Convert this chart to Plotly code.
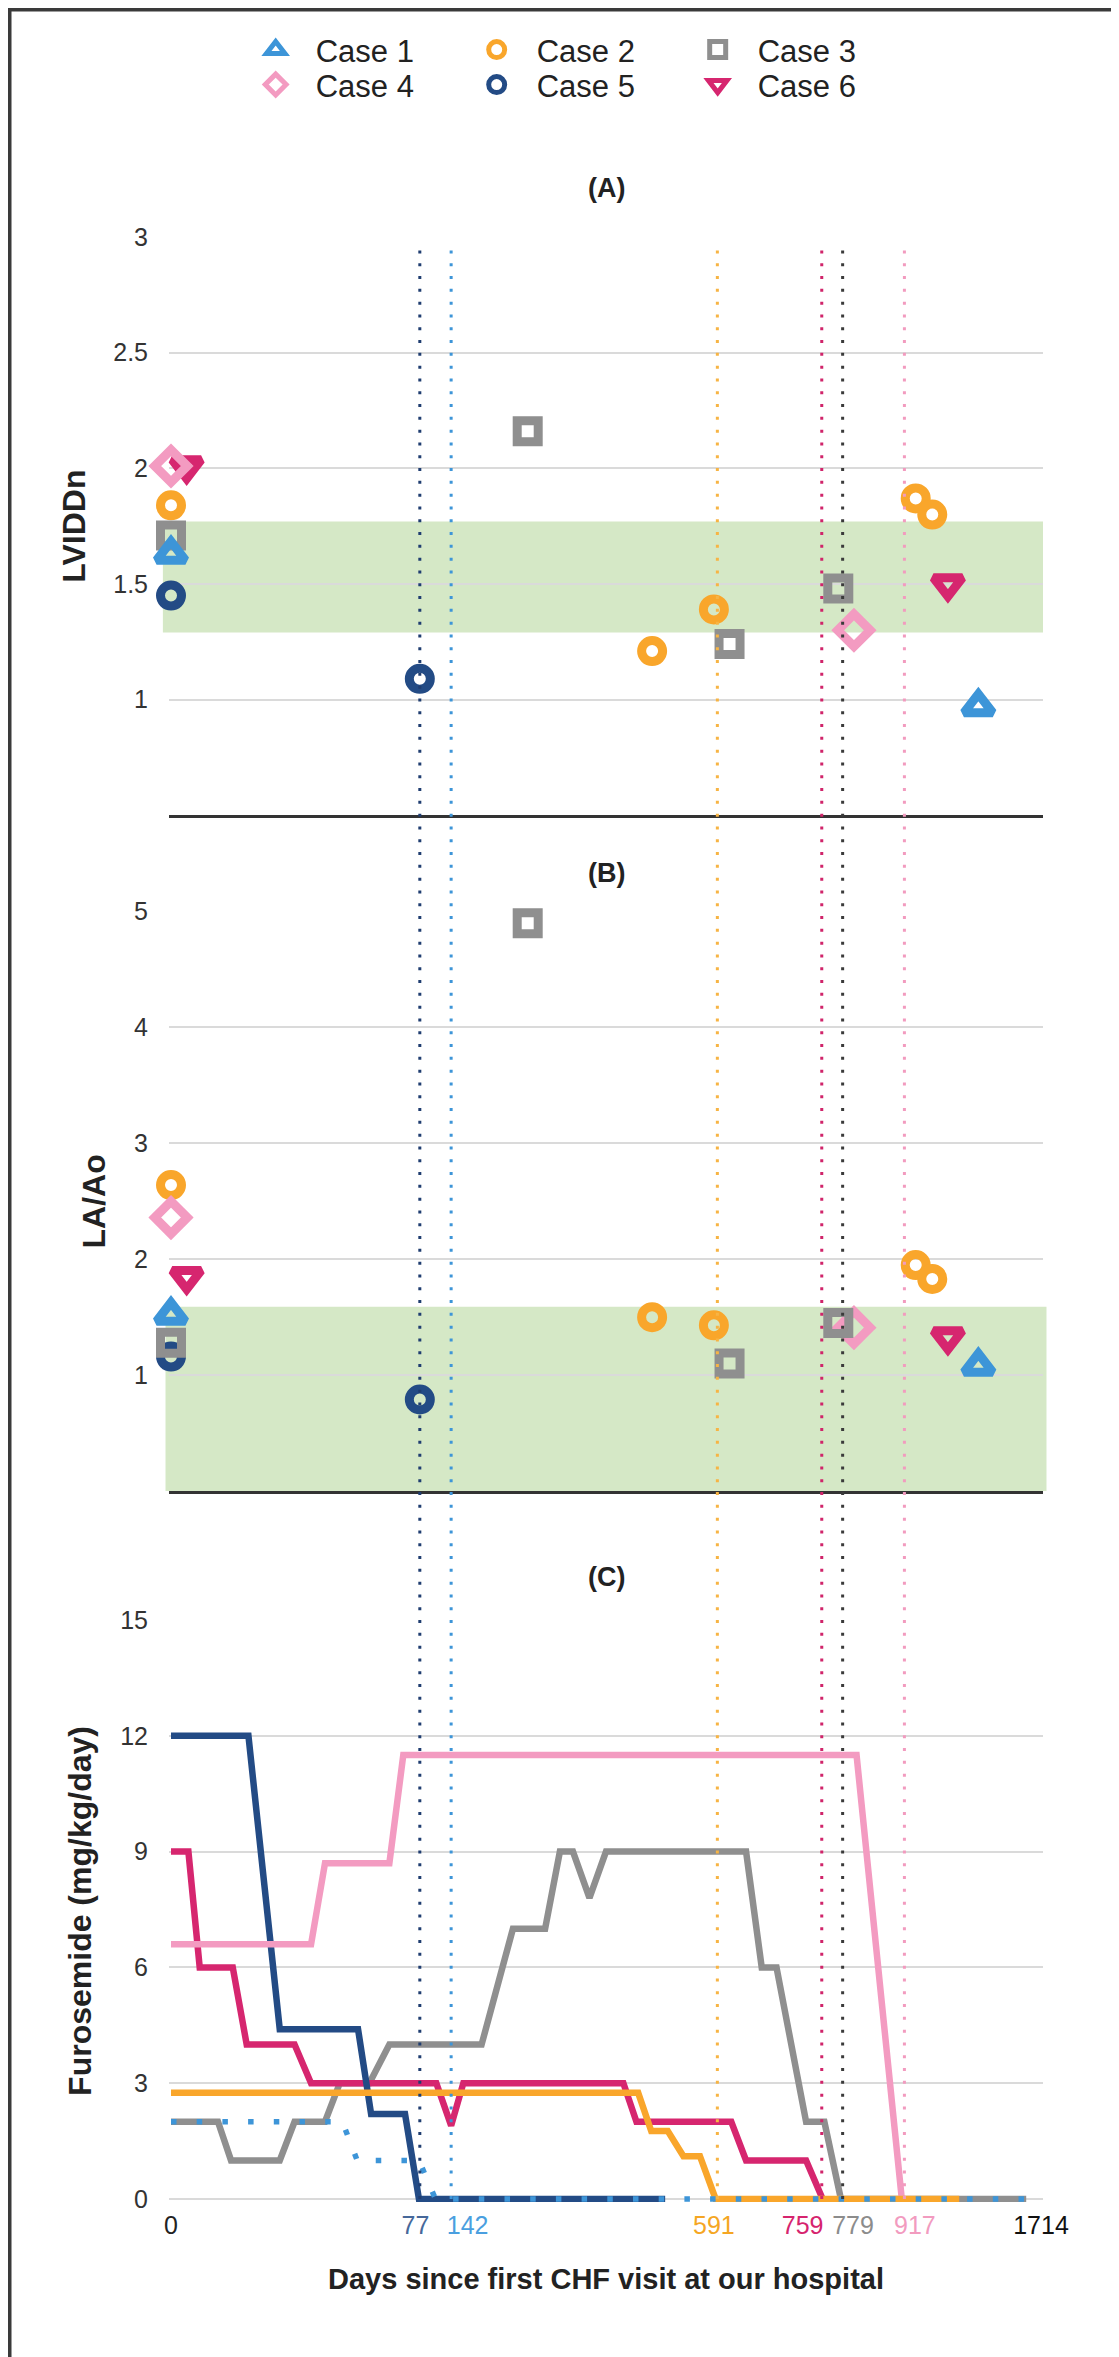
import plotly.graph_objects as go

FONT = "Liberation Sans, Arial, Helvetica, sans-serif"

case_names = ["Case 1", "Case 2", "Case 3", "Case 4", "Case 5", "Case 6"]
case_colors = ["#3d95d8", "#f9a62b", "#8f8f8f", "#f39bc1", "#234b85", "#d6266f"]
case_symbols = ["triangle-up-open", "circle-open", "square-open",
                "diamond-open", "circle-open", "triangle-down-open"]

# x = position on the chart's ordinal visit axis (0 = day 0, 100 = day 1714)
# echo visits: LVIDDn (A) and LA/Ao (B)
c1_echo_x = [0, 92.8]
c1_lviddn = [1.63, 0.97]
c1_laao = [1.52, 1.08]

c2_echo_x = [0, 55.3, 62.4, 85.6, 87.5]
c2_lviddn = [1.84, 1.21, 1.39, 1.87, 1.80]
c2_laao = [2.64, 1.50, 1.43, 1.95, 1.83]

c3_echo_x = [0, 41.0, 64.2, 76.7]
c3_lviddn = [1.71, 2.16, 1.24, 1.48]
c3_laao = [1.28, 4.90, 1.10, 1.45]

c4_echo_x = [0, 78.5]
c4_lviddn = [2.01, 1.30]
c4_laao = [2.36, 1.41]

c5_echo_x = [0, 28.6]
c5_lviddn = [1.45, 1.09]
c5_laao = [1.16, 0.79]

c6_echo_x = [1.8, 89.3]
c6_lviddn = [2.01, 1.50]
c6_laao = [1.85, 1.33]

# furosemide dose (C)
c1_furo_x = [0, 19.7, 21.4, 28.5, 30.4, 99.4]
c1_furo = [2, 2, 1, 1, 0, 0]

c2_furo_x = [0, 53.7, 55.2, 57.1, 58.9, 60.8, 62.6, 90.6]
c2_furo = [2.75, 2.75, 1.76, 1.76, 1.11, 1.11, 0, 0]

c3_furo_x = [0, 5.4, 6.9, 12.5, 14.2, 17.7, 19.4, 22.8, 25.1, 35.7, 39.3, 43.0,
             44.7, 46.2, 48.1, 50.0, 66.1, 67.9, 69.6, 73.0, 75.1, 77.0, 98.3]
c3_furo = [2, 2, 1, 1, 2, 2, 3, 3, 4, 4, 7, 7,
           9, 9, 7.8, 9, 9, 6, 6, 2, 2, 0, 0]

c4_furo_x = [0, 16.1, 17.7, 25.1, 26.7, 78.8, 84.0]
c4_furo = [6.6, 6.6, 8.7, 8.7, 11.5, 11.5, 0]

c5_furo_x = [0, 8.9, 12.5, 21.5, 23.0, 26.9, 28.5, 56.8]
c5_furo = [12, 12, 4.4, 4.4, 2.2, 2.2, 0, 0]

c6_furo_x = [0, 2.0, 3.3, 7.1, 8.7, 14.2, 16.1, 30.5, 32.2, 33.6, 52.0, 53.5,
             64.4, 66.1, 73.0, 74.9]
c6_furo = [9, 9, 6, 6, 4, 4, 3, 3, 1.9, 3, 3, 2,
           2, 1, 1, 0]

# day furosemide reached zero, per case (dotted guides)
stop_days = [77, 142, 591, 759, 779, 917]
stop_x = [28.6, 32.2, 62.8, 74.8, 77.2, 84.3]
stop_colors = ["#1f3d70", "#3d95d8", "#f7b444", "#d0246a", "#3a3a3a", "#f29bbf"]

# x-axis day labels
day_labels = ["0", "77", "142", "591", "759", "779", "917", "1714"]
day_label_x = [0, 28.1, 34.1, 62.4, 72.6, 78.4, 85.5, 100]
day_label_colors = ["#222222", "#46689a", "#4a9fe0", "#f5a623",
                    "#d6246e", "#8c8c8c", "#f29bbf", "#111111"]

# reference (normal) ranges
lviddn_normal = [1.29, 1.77]
laao_normal = [0, 1.59]

echo_x = [c1_echo_x, c2_echo_x, c3_echo_x, c4_echo_x, c5_echo_x, c6_echo_x]
lviddn = [c1_lviddn, c2_lviddn, c3_lviddn, c4_lviddn, c5_lviddn, c6_lviddn]
laao = [c1_laao, c2_laao, c3_laao, c4_laao, c5_laao, c6_laao]
furo_x = [c1_furo_x, c2_furo_x, c3_furo_x, c4_furo_x, c5_furo_x, c6_furo_x]
furo = [c1_furo, c2_furo, c3_furo, c4_furo, c5_furo, c6_furo]

marker_size = {"circle-open": 21, "square-open": 21, "diamond-open": 25,
               "triangle-up-open": 25, "triangle-down-open": 25}

fig = go.Figure()

# marker draw order (later = on top); cases 1-3 in the first legend row, 4-6 in the second
for i in [5, 4, 1, 3, 2, 0]:
    mk = dict(symbol=case_symbols[i], size=marker_size[case_symbols[i]],
              color=case_colors[i], line=dict(width=9, color=case_colors[i]))
    fig.add_trace(go.Scatter(
        x=echo_x[i], y=lviddn[i], mode="markers", name=case_names[i],
        legendgroup=case_names[i], legendrank=i + 1, marker=mk,
        legend="legend" if i < 3 else "legend2",
        cliponaxis=False, xaxis="x", yaxis="y"))
    fig.add_trace(go.Scatter(
        x=echo_x[i], y=laao[i], mode="markers", name=case_names[i],
        legendgroup=case_names[i], showlegend=False, marker=mk,
        cliponaxis=False, xaxis="x2", yaxis="y2"))

for i in [2, 5, 4, 3, 1, 0]:
    if i == 0:
        ln = dict(color=case_colors[i], width=5.5, dash="5.5px,20.2px")
    else:
        ln = dict(color=case_colors[i], width=6.5)
    fig.add_trace(go.Scatter(
        x=furo_x[i], y=furo[i], mode="lines", name=case_names[i],
        legendgroup=case_names[i], showlegend=False, line=ln,
        xaxis="x3", yaxis="y3"))

# normal ranges
fig.add_shape(type="rect", xref="paper", yref="y", x0=-0.007, x1=1.0,
              y0=lviddn_normal[0], y1=lviddn_normal[1],
              fillcolor="#d5e8c6", line_width=0, layer="below")
fig.add_shape(type="rect", xref="paper", yref="y2", x0=-0.004, x1=1.004,
              y0=laao_normal[0], y1=laao_normal[1],
              fillcolor="#d5e8c6", line_width=0, layer="below")

# dotted guides through all panels
for xv, col in zip(stop_x, stop_colors):
    fig.add_shape(type="line", xref="x3", yref="paper", x0=xv, x1=xv,
                  y0=0.0015, y1=0.9969,
                  line=dict(color=col, width=3, dash="3px,9.8px"))

# outer frame
fig.add_shape(type="rect", xref="paper", yref="paper",
              x0=-0.1822, x1=1.0941, y0=-0.0821, y1=1.1156,
              line=dict(color="#3a3a3a", width=3.5), fillcolor="rgba(0,0,0,0)")

for txt, yp in [("(A)", 1.0249), ("(B)", 0.6765), ("(C)", 0.3182)]:
    fig.add_annotation(text=txt, xref="paper", yref="paper", x=0.5, y=yp,
                       showarrow=False, xanchor="center", yanchor="middle",
                       font=dict(size=27, color="#222", weight="bold"))

xr = [-0.23, 100.23]
title_font = dict(size=32, color="#222", weight="bold", family=FONT)
common_x = dict(range=xr, showgrid=False, zeroline=False, ticks="")
common_y = dict(showgrid=True, gridcolor="#dadada", gridwidth=2,
                ticks="", ticklabelstandoff=20, tickfont=dict(size=25, color="#333"))

ticktext = ["<span style='color:%s'>%s</span>" % (c, t)
            for c, t in zip(day_label_colors, day_labels)]

legend_style = dict(orientation="h", x=0.0763, xanchor="left", yanchor="middle",
                    font=dict(size=31, color="#222"), entrywidth=136,
                    entrywidthmode="pixels", itemwidth=70, bgcolor="rgba(0,0,0,0)")

fig.update_layout(
    width=1119, height=2357,
    margin=dict(l=161, r=84, t=229, b=163),
    paper_bgcolor="white", plot_bgcolor="white",
    font=dict(family=FONT, size=25, color="#333"),
    legend=dict(y=1.0952, **legend_style),
    legend2=dict(y=1.0774, **legend_style),
    xaxis=dict(domain=[0, 1], anchor="y", showticklabels=False, showline=True,
               linecolor="#333", linewidth=2.5, **common_x),
    xaxis2=dict(domain=[0, 1], anchor="y2", matches="x", showticklabels=False,
                showline=True, linecolor="#333", linewidth=2.5, **common_x),
    xaxis3=dict(domain=[0, 1], anchor="y3", matches="x", showline=False,
                tickmode="array", tickvals=day_label_x, ticktext=ticktext,
                tickfont=dict(size=25), ticklabelstandoff=6,
                title=dict(text="Days since first CHF visit at our hospital",
                           font=dict(size=29, color="#222", weight="bold", family=FONT),
                           standoff=30),
                **common_x),
    yaxis=dict(domain=[0.7057, 1], range=[0.5, 3], tickvals=[1, 1.5, 2, 2.5, 3],
               zeroline=False,
               title=dict(text="LVIDDn", font=title_font, standoff=18), **common_y),
    yaxis2=dict(domain=[0.3618, 0.6567], range=[0, 5], tickvals=[1, 2, 3, 4, 5],
                zeroline=False,
                title=dict(text="LA/Ao", font=title_font, standoff=18), **common_y),
    yaxis3=dict(domain=[0, 0.2962], range=[-0.078, 15], tickvals=[0, 3, 6, 9, 12, 15],
                zeroline=False, showline=False,
                title=dict(text="Furosemide (mg/kg/day)", font=title_font, standoff=18),
                **common_y),
)

# zero line of panel C drawn under the dose lines
fig.add_shape(type="line", xref="paper", yref="y3", x0=0, x1=1, y0=0, y1=0,
              line=dict(color="#222", width=1.5), layer="below")

fig.write_html("out.html")
